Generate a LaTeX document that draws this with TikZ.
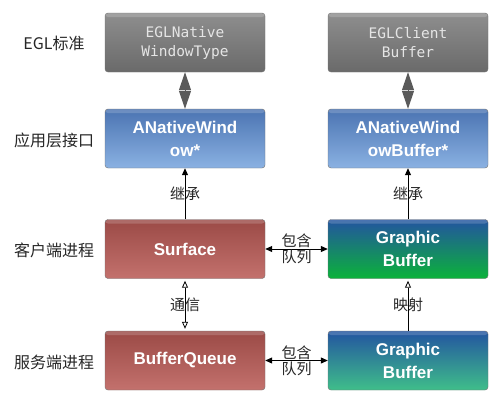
\documentclass[tikz,border=0pt]{standalone}
\usepackage{fontspec}
\setmainfont{Liberation Sans}
\newfontfamily\cjk{Noto Sans CJK SC}
\newfontfamily\eglmono{DejaVu Sans Mono}
\usetikzlibrary{arrows.meta}
\definecolor{graytop}{HTML}{8E8E8E}
\definecolor{graybot}{HTML}{6A6A6A}
\definecolor{bluetop}{HTML}{4B74B2}
\definecolor{bluebot}{HTML}{8AB1E2}
\definecolor{redtop}{HTML}{9B4A46}
\definecolor{redbot}{HTML}{C3716D}
\definecolor{gbtop}{HTML}{2354A0}
\definecolor{gbgreen}{HTML}{0BB23A}
\definecolor{gbteal}{HTML}{3FBE8A}
\definecolor{dblgray}{HTML}{5A5A5A}

\begin{document}
\begin{tikzpicture}[x=1pt,y=-1pt]
    \tikzstyle{box}=[rectangle,rounded corners=3pt,draw=black!55,minimum width=160pt,minimum height=59pt,inner sep=0pt,align=center,text=white,font=\bfseries\fontsize{17}{23}\selectfont,
        path picture={\fill[white,opacity=.18] (path picture bounding box.north west) rectangle ([yshift=-4pt]path picture bounding box.north east);}]
    \tikzstyle{eglbox}=[box,top color=graytop,bottom color=graybot,font=\eglmono\fontsize{14.5}{19}\selectfont,text=white!90!black]
    \tikzstyle{apibox}=[box,top color=bluetop,bottom color=bluebot]
    \tikzstyle{procbox}=[box,top color=redtop,bottom color=redbot]
    \tikzstyle{label}=[font=\cjk\fontsize{15}{15}\selectfont,text=black!85,inner sep=0pt]
    \tikzstyle{dbl}=[draw=dblgray,fill=dblgray,line width=1pt,{Triangle[length=18pt,width=12pt]}-{Triangle[length=18pt,width=12pt]}]
    \useasboundingbox (0,0) rectangle (502,405);

    \foreach \name/\y/\txt in {egl/43/EGL标准, api/140/应用层接口, client/250/客户端进程, server/362/服务端进程}
        \node[label,font=\cjk\fontsize{16}{16}\selectfont] (L-\name) at (54,\y) {\txt};

    \node[eglbox] (eglwin) at (185,42.5) {EGLNative\\WindowType};
    \node[eglbox] (eglbuf) at (408,42.5) {EGLClient\\Buffer};
    \node[apibox] (anw) at (185,138.5) {ANativeWind\\ow*};
    \node[apibox] (anwb) at (408,138.5) {ANativeWind\\owBuffer*};
    \node[procbox] (surface) at (185,249) {Surface};
    \node[box,top color=gbtop,bottom color=gbgreen] (gbclient) at (408,249) {Graphic\\Buffer};
    \node[procbox] (bq) at (185,360.5) {BufferQueue};
    \node[box,top color=gbtop,bottom color=gbteal] (gbserver) at (408,360.5) {Graphic\\Buffer};

    \draw[dbl] (eglwin) -- (anw);
    \draw[dbl] (eglbuf) -- (anwb);

    \draw[line width=1pt,-{Triangle[length=7pt,width=6pt]}] (surface) -- (anw) node[label,midway] {继承};
    \draw[line width=1pt,-{Triangle[length=7pt,width=6pt]}] (gbclient) -- (anwb) node[label,midway] {继承};

    \foreach \from/\to in {surface/gbclient, bq/gbserver}
        \draw[line width=1pt,{Triangle[length=7pt,width=6pt]}-{Triangle[length=7pt,width=6pt]}] (\from) -- (\to)
            node[label,midway,yshift=8pt] {包含} node[label,midway,yshift=-8pt] {队列};

    \draw[line width=.8pt,{Triangle[open,length=7pt,width=6pt]}-{Triangle[open,length=7pt,width=6pt]},shorten <=2pt,shorten >=2pt] (surface) -- (bq) node[label,midway] {通信};
    \draw[line width=.8pt,-{Triangle[open,length=7pt,width=6pt]},shorten >=2pt] (gbserver) -- (gbclient) node[label,midway] {映射};
\end{tikzpicture}
\end{document}
